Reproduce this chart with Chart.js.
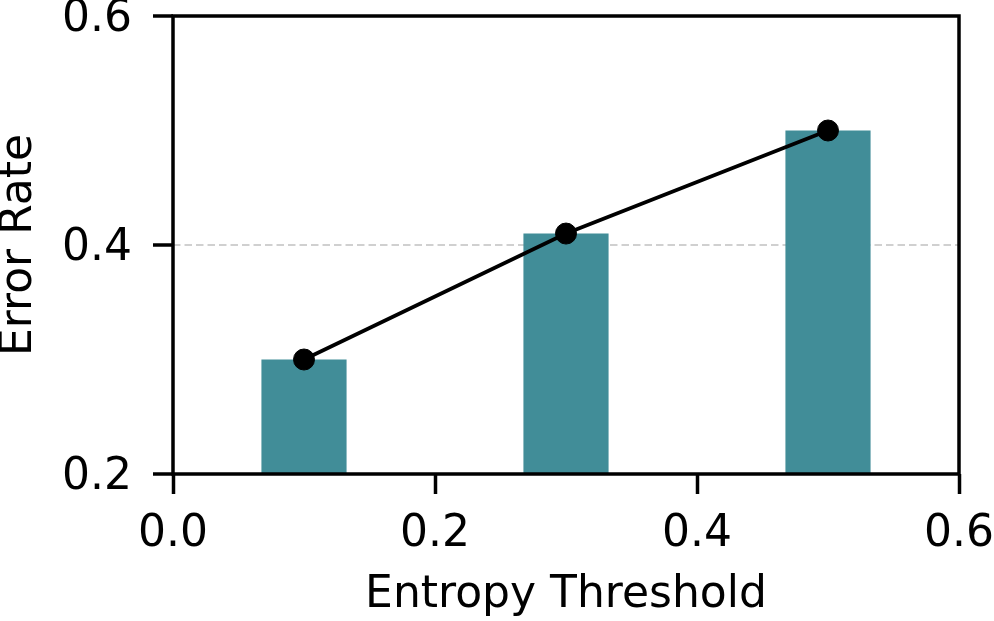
<!DOCTYPE html>
<html>
<head>
<meta charset="utf-8">
<script src="https://cdn.jsdelivr.net/npm/chart.js@4/dist/chart.umd.min.js"></script>
<style>
  html, body { margin: 0; padding: 0; background: #ffffff; }
  #chart { display: block; }
</style>
</head>
<body>
<canvas id="chart" width="994" height="621"></canvas>
<script>
// thresholds on x, error rate on y
const thresholds = [0.1, 0.3, 0.5];
const barRates = [0.30, 0.41, 0.50];
const lineRates = [0.30, 0.41, 0.50];
const xTicks = [0.0, 0.2, 0.4, 0.6];
const yTicks = [0.2, 0.4, 0.6];

const FONT = '"DejaVu Sans", "Liberation Sans", sans-serif';

// frame around the plot area (matplotlib style box)
const framePlugin = {
    id: 'frame',
    afterDraw(chart) {
        const a = chart.chartArea;
        const ctx = chart.ctx;
        ctx.save();
        ctx.strokeStyle = '#000000';
        ctx.lineWidth = 3.5;
        ctx.strokeRect(a.left, a.top, a.right - a.left, a.bottom - a.top);
        ctx.restore();
    }
};

const ctx = document.getElementById('chart').getContext('2d');
new Chart(ctx, {
    type: 'bar',
    data: {
        datasets: [
            {
                type: 'line',
                data: thresholds.map((x, i) => ({ x: x, y: lineRates[i] })),
                borderColor: '#000000',
                backgroundColor: '#000000',
                borderWidth: 3.8,
                pointRadius: 10.5,
                pointBorderWidth: 1,
                pointBackgroundColor: '#000000',
                tension: 0,
                order: 0
            },
            {
                type: 'bar',
                data: thresholds.map((x, i) => ({ x: x, y: barRates[i] })),
                backgroundColor: '#418d98',
                borderWidth: 0,
                barPercentage: 0.325,
                categoryPercentage: 1,
                order: 1
            }
        ]
    },
    options: {
        responsive: false,
        animation: false,
        devicePixelRatio: 1,
        layout: { padding: { top: 16, right: 35, left: 0, bottom: 0 } },
        plugins: {
            legend: { display: false },
            tooltip: { enabled: false }
        },
        scales: {
            x: {
                type: 'linear',
                min: 0,
                max: 0.6,
                offset: false,
                afterBuildTicks: (scale) => { scale.ticks = xTicks.map(v => ({ value: v })); },
                afterFit: (scale) => {
                    scale.height = 147;
                    scale.paddingLeft = 0;
                    scale.paddingRight = 0;
                },
                grid: {
                    offset: false,
                    drawOnChartArea: false,
                    drawTicks: true,
                    tickLength: 20,
                    tickWidth: 3.5,
                    tickColor: '#000000'
                },
                border: { display: false },
                ticks: {
                    color: '#000000',
                    padding: 14,
                    maxRotation: 0,
                    font: { family: FONT, size: 44, lineHeight: 1.2 },
                    callback: (v) => Number(v).toFixed(1)
                },
                title: {
                    display: true,
                    text: 'Entropy Threshold',
                    color: '#000000',
                    padding: { top: 0, bottom: 3 },
                    font: { family: FONT, size: 44, lineHeight: 1.0 }
                }
            },
            y: {
                type: 'linear',
                min: 0.2,
                max: 0.6,
                z: 1,
                afterBuildTicks: (scale) => { scale.ticks = yTicks.map(v => ({ value: v })); },
                afterFit: (scale) => {
                    scale.width = 173;
                    scale.paddingTop = 0;
                    scale.paddingBottom = 0;
                },
                grid: {
                    drawOnChartArea: true,
                    drawTicks: true,
                    tickLength: 20,
                    tickWidth: 3.5,
                    tickColor: '#000000',
                    lineWidth: 2,
                    color: (c) => (c.tick && Math.abs(c.tick.value - 0.4) < 1e-9) ? 'rgba(150, 150, 150, 0.45)' : 'rgba(0,0,0,0)'
                },
                border: { display: false, dash: [7.5, 4] },
                ticks: {
                    color: '#000000',
                    padding: 21,
                    labelOffset: 4,
                    font: { family: FONT, size: 44, lineHeight: 1.2 },
                    callback: (v) => Number(v).toFixed(1)
                },
                title: {
                    display: true,
                    text: 'Error Rate',
                    color: '#000000',
                    padding: { top: 2, bottom: 0 },
                    font: { family: FONT, size: 44, lineHeight: 0.8 }
                }
            }
        }
    },
    plugins: [framePlugin]
});
</script>
</body>
</html>
